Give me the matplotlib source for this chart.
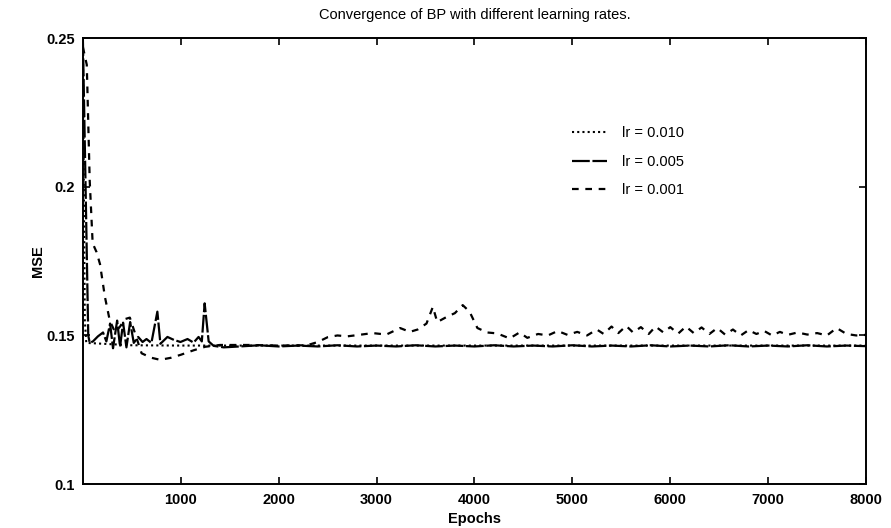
import matplotlib.pyplot as plt

plt.rcParams['font.family'] = ['Liberation Sans', 'DejaVu Sans']

# lr = 0.010 (dotted)
ep_010 = [0, 10, 20, 35, 500, 1000, 2000, 3000, 4000, 5000, 6000, 7000, 8000]
mse_010 = [0.250, 0.200, 0.155, 0.1475, 0.1467, 0.1466, 0.1466, 0.1466, 0.1466,
           0.1466, 0.1466, 0.1466, 0.1466]

# lr = 0.005 (long dashes)
ep_005 = [0, 25, 55, 70, 103, 154, 206, 240, 278, 308, 350, 380, 411, 445, 483,
          520, 565, 610, 650, 700, 761, 792, 864, 930, 997, 1069, 1131, 1182,
          1215, 1244, 1285, 1336, 1439, 1600, 1800, 2000, 2200, 2400, 2600,
          2800, 3000, 3200, 3400, 3600, 3800, 4000, 4200, 4400, 4600, 4800,
          5000, 5200, 5400, 5600, 5800, 6000, 6200, 6400, 6600, 6800, 7000,
          7200, 7400, 7600, 7800, 8000]
mse_005 = [0.250, 0.205, 0.150, 0.1475, 0.1480, 0.1497, 0.1510, 0.1480, 0.1540,
           0.1457, 0.1550, 0.1462, 0.1543, 0.1460, 0.1545, 0.1475, 0.1495,
           0.1478, 0.1488, 0.1475, 0.1580, 0.1472, 0.1495, 0.1485, 0.1478,
           0.1488, 0.1476, 0.1495, 0.1480, 0.1608, 0.1480, 0.1465, 0.1460,
           0.1463, 0.1467, 0.1463, 0.1466, 0.1463, 0.1467, 0.1463, 0.1466,
           0.1463, 0.1467, 0.1463, 0.1466, 0.1463, 0.1467, 0.1463, 0.1466,
           0.1463, 0.1467, 0.1463, 0.1466, 0.1463, 0.1467, 0.1463, 0.1466,
           0.1463, 0.1467, 0.1463, 0.1466, 0.1463, 0.1467, 0.1463, 0.1466,
           0.1464]

# lr = 0.001 (dashed)
ep_001 = [0, 40, 70, 100, 140, 175, 225, 275, 330, 380, 430, 480, 540, 600,
          700, 790, 900, 1000, 1130, 1250, 1400, 1700, 2000, 2290, 2400, 2500,
          2600, 2700, 2800, 2960, 3100, 3240, 3340, 3420, 3510, 3575, 3620,
          3720, 3800, 3880, 3950, 4030, 4130, 4230, 4360, 4460, 4540, 4650,
          4750, 4850, 4950, 5050, 5150, 5250, 5320, 5400, 5470, 5550, 5620,
          5700, 5780, 5850, 5930, 6000, 6080, 6160, 6240, 6320, 6400, 6480,
          6560, 6640, 6720, 6800, 6880, 6960, 7040, 7120, 7200, 7300, 7400,
          7500, 7600, 7700, 7800, 7900, 8000]
mse_001 = [0.247, 0.241, 0.202, 0.181, 0.178, 0.174, 0.163, 0.155, 0.151, 0.153,
           0.1555, 0.156, 0.150, 0.144, 0.1425, 0.1418, 0.1425, 0.1435, 0.1450,
           0.1462, 0.1468, 0.1468, 0.1466, 0.1467, 0.1478, 0.1494, 0.1500,
           0.1497, 0.1501, 0.1508, 0.1503, 0.1525, 0.1512, 0.1520, 0.1540,
           0.1596, 0.1545, 0.1563, 0.1575, 0.1602, 0.1580, 0.1525, 0.1510,
           0.1507, 0.1490, 0.1510, 0.1492, 0.1505, 0.1500, 0.1515, 0.1502,
           0.1512, 0.1500, 0.1520, 0.1505, 0.1530, 0.1508, 0.1532, 0.1510,
           0.1528, 0.1505, 0.1530, 0.1510, 0.1528, 0.1506, 0.1530, 0.1508,
           0.1527, 0.1505, 0.1525, 0.1503, 0.1520, 0.1500, 0.1518, 0.1505,
           0.1515, 0.1500, 0.1512, 0.1502, 0.1510, 0.1503, 0.1508, 0.1500,
           0.1525, 0.1505, 0.1500, 0.1502]

xticks = [1000, 2000, 3000, 4000, 5000, 6000, 7000, 8000]
yticks = [0.1, 0.15, 0.2, 0.25]
ytick_labels = ['0.1', '0.15', '0.2', '0.25']

fig = plt.figure(figsize=(8.91, 5.28), dpi=100)
ax = fig.add_axes([0.093, 0.083, 0.879, 0.845])

ax.plot(ep_010, mse_010, color='black', lw=1.5, linestyle=(0, (1, 1.5)), label='lr = 0.010')
ax.plot(ep_005, mse_005, color='black', lw=1.6, linestyle=(0, (8, 1.2)), label='lr = 0.005')
ax.plot(ep_001, mse_001, color='black', lw=1.6, linestyle=(0, (3, 3)), label='lr = 0.001')

ax.set_xlim(0, 8000)
ax.set_ylim(0.1, 0.25)
ax.set_xticks(xticks)
ax.set_yticks(yticks)
ax.set_yticklabels(ytick_labels)
ax.tick_params(direction='in', length=5, width=1.2, top=True, right=True,
               labelsize=10.5, pad=6)
for lbl in ax.get_xticklabels() + ax.get_yticklabels():
    lbl.set_fontweight('bold')
for s in ax.spines.values():
    s.set_linewidth(1.4)

ax.set_title('Convergence of BP with different learning rates.', fontsize=10.5, pad=14)
ax.set_xlabel('Epochs', fontsize=10.5, fontweight='bold', labelpad=4)
ax.set_ylabel('MSE', fontsize=10.5, fontweight='bold', labelpad=1)

ax.legend(loc='upper left', bbox_to_anchor=(0.608, 0.832), frameon=False,
          fontsize=10.5, handlelength=2.4, labelspacing=1.0, handletextpad=1.0)

fig.savefig('out.png', dpi=100)
